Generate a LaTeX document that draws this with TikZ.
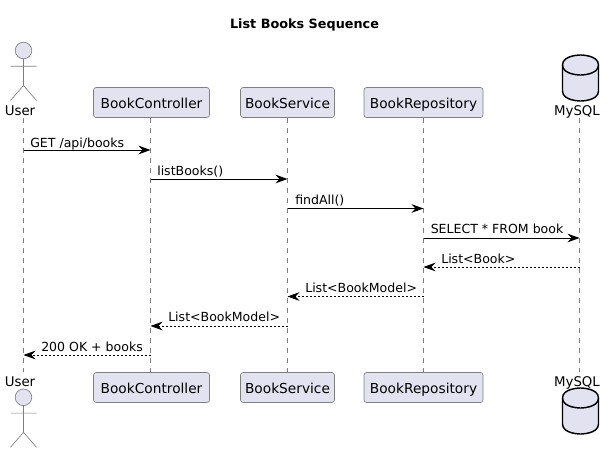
\documentclass[tikz,border=0pt]{standalone}
\usepackage{fontspec}
\setmainfont{DejaVu Sans}
\usetikzlibrary{arrows.meta}

\tikzset{
  lane box/.style={draw=boxline,fill=boxfill,rounded corners=2pt,line width=0.5pt,
                   minimum height=22.5pt,inner sep=0pt,text height=9.3pt,text depth=1pt,
                   font=\fontsize{10.3pt}{12pt}\selectfont},
  life line/.style={draw=lifeline,line width=0.5pt,dash pattern=on 3.75pt off 3.75pt},
  call/.style={draw=black,line width=0.75pt,-{Stealth[inset=3pt,length=9pt,width=6.5pt]}},
  reply/.style={draw=black,line width=0.75pt,dash pattern=on 1.5pt off 1.5pt,-{Stealth[inset=3pt,length=9pt,width=6.5pt]}},
  msg/.style={inner sep=0pt,font=\fontsize{9.4pt}{11pt}\selectfont,anchor=base west},
  end label/.style={inner sep=0pt,font=\fontsize{10pt}{12pt}\selectfont,anchor=base}
}
\definecolor{boxfill}{HTML}{E2E2F0}
\definecolor{boxline}{HTML}{7F7F7F}
\definecolor{lifeline}{HTML}{7F7F7F}

\newcommand{\actorman}[2]{% x, head y
  \draw[draw=boxline,fill=boxfill,line width=0.5pt] (#1,#2) circle (8.3);
  \draw[draw=boxline,line width=0.5pt] (#1,#2+8.3) -- (#1,#2+35)
    (#1-13,#2+15.8) -- (#1+13,#2+15.8)
    (#1-13,#2+50) -- (#1,#2+35) -- (#1+13,#2+50);
}
\newcommand{\dbdrum}[2]{% x, top y
  \draw[draw=black,fill=boxfill,line width=1.1pt] (#1-18,#2+10)
    .. controls (#1-18,#2) and (#1,#2) .. (#1,#2)
    .. controls (#1,#2) and (#1+18,#2) .. (#1+18,#2+10)
    -- (#1+18,#2+36) .. controls (#1+18,#2+46) and (#1,#2+46) .. (#1,#2+46)
    .. controls (#1,#2+46) and (#1-18,#2+46) .. (#1-18,#2+36) -- cycle;
  \draw[draw=black,line width=1.1pt] (#1-18,#2+10)
    .. controls (#1-18,#2+20) and (#1,#2+20) .. (#1,#2+20)
    .. controls (#1,#2+20) and (#1+18,#2+20) .. (#1+18,#2+10);
}

\begin{document}
\begin{tikzpicture}[x=0.75pt,y=-0.75pt]
  \useasboundingbox (0,0) rectangle (614,453);

  \node[font=\bfseries\fontsize{9.6pt}{12pt}\selectfont,inner sep=0pt,anchor=base] (title) at (304.5,28.5) {List Books Sequence};

  % top and bottom heads
  \node[end label] (usertop) at (20,116) {User};
  \node[lane box,minimum width=87pt] (ctrltop) at (151.5,102.5) {BookController};
  \node[lane box,minimum width=70.5pt] (svctop) at (287.5,102.5) {BookService};
  \node[lane box,minimum width=89.25pt] (repotop) at (423.5,102.5) {BookRepository};
  \node[end label] (dbtop) at (577,116) {MySQL};

  \node[end label] (userbot) at (20,386) {User};
  \node[lane box,minimum width=87pt] (ctrlbot) at (151.5,387.5) {BookController};
  \node[lane box,minimum width=70.5pt] (svcbot) at (287.5,387.5) {BookService};
  \node[lane box,minimum width=89.25pt] (repobot) at (423.5,387.5) {BookRepository};
  \node[end label] (dbbot) at (577,386) {MySQL};

  \actorman{23.5}{50.5}
  \actorman{23.5}{397.3}
  \dbdrum{580.5}{55}
  \dbdrum{580.5}{388}

  % life lines
  \coordinate (usertopl) at (23.5,118);
  \coordinate (userbotl) at (23.5,372);
  \coordinate (ctrltopl) at (150.5,118);
  \coordinate (ctrlbotl) at (150.5,372);
  \coordinate (svctopl) at (287.5,118);
  \coordinate (svcbotl) at (287.5,372);
  \coordinate (repotopl) at (423.5,118);
  \coordinate (repobotl) at (423.5,372);
  \coordinate (dbtopl) at (579.5,118);
  \coordinate (dbbotl) at (579.5,372);
  \foreach \who in {user,ctrl,svc,repo,db}
    \draw[life line] (\who topl) -- (\who botl);

  % messages
  \foreach \name/\lane/\yy in {a/user/150,b/ctrl/150,c/ctrl/179,d/svc/179,e/svc/208.5,f/repo/208.5,
      g/repo/238,h/db/238,i/db/267,j/repo/267,k/repo/296.5,l/svc/296.5,m/svc/326,n/ctrl/326,o/ctrl/355,p/user/355}
    \coordinate (\name) at (\lane topl |- 0,\yy);

  \draw[call] (a) -- (b);
  \draw[call] (c) -- (d);
  \draw[call] (e) -- (f);
  \draw[call] (g) -- (h);
  \draw[reply] (i) -- (j);
  \draw[reply] (k) -- (l);
  \draw[reply] (m) -- (n);
  \draw[reply] (o) -- (p);

  \node[msg] (m1) at (30,147) {GET /api/books};
  \node[msg] (m2) at (157,175) {listBooks()};
  \node[msg] (m3) at (295,204) {findAll()};
  \node[msg] (m4) at (430.5,233) {SELECT * FROM book};
  \node[msg] (m5) at (441,263) {List<Book>};
  \node[msg] (m6) at (305,292) {List<BookModel>};
  \node[msg] (m7) at (168,321) {List<BookModel>};
  \node[msg] (m8) at (41,351) {200 OK + books};
\end{tikzpicture}
\end{document}
